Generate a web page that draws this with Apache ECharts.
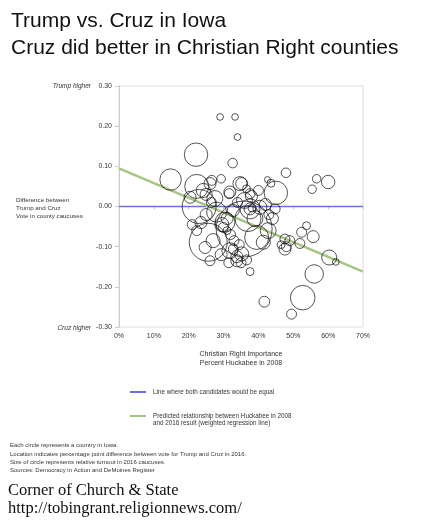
<!DOCTYPE html>
<html>
<head>
<meta charset="utf-8">
<script src="https://cdn.jsdelivr.net/npm/echarts@6/dist/echarts.min.js"></script>
<style>
  html, body { margin: 0; padding: 0; background: #fff; }
  #chart { width: 438px; height: 525px; }
</style>
</head>
<body>
<div id="chart"></div>
<script>
// percent Huckabee 2008 per county
var huckabee = [29.0, 33.3, 34.0, 22.1, 32.6, 14.8, 47.9, 42.6, 43.6, 45.0,
    56.7, 60.0, 55.4, 22.3, 26.6, 29.3, 35.2, 36.6, 31.6, 23.0,
    25.6, 35.9, 41.4, 47.6, 49.0, 52.4, 53.8, 55.7, 47.6, 51.9,
    60.3, 62.2, 56.0, 52.7, 41.7, 49.5, 37.6, 26.1, 24.7, 33.8,
    35.2, 36.6, 32.8, 29.9, 31.0, 22.3, 24.2, 26.1, 31.8, 34.7,
    37.6, 30.4, 31.0, 29.5, 37.6, 37.6, 38.2, 32.8, 28.0, 23.5,
    39.5, 42.8, 31.8, 33.8, 27.0, 40.4, 44.8, 42.0, 43.0, 39.0,
    27.5, 25.0, 20.4, 26.5, 34.0, 36.0, 38.0, 32.0, 33.0, 34.5,
    46.5, 48.0, 29.3, 31.5, 35.0, 44.0, 40.0, 25.0, 21.0, 37.0];
// Trump minus Cruz share, 2016
var margin = [0.223, 0.223, 0.173, 0.129, 0.108, 0.067, 0.084, 0.067, 0.058, 0.034,
    0.069, 0.061, 0.043, 0.050, 0.065, 0.069, 0.057, 0.044, 0.032, 0.000,
    -0.089, -0.056, -0.089, -0.081, -0.085, -0.064, -0.048, -0.075, -0.106, -0.092,
    -0.127, -0.138, -0.168, -0.227, -0.237, -0.268, -0.162, -0.135, -0.102, -0.135,
    -0.118, -0.133, -0.106, -0.052, -0.060, -0.060, 0.040, 0.057, 0.036, 0.057,
    0.032, -0.039, -0.030, -0.045, -0.006, -0.006, -0.004, -0.010, -0.014, -0.040,
    -0.077, -0.060, -0.110, -0.125, -0.085, -0.002, -0.006, 0.005, -0.020, -0.030,
    0.020, 0.030, 0.023, 0.010, 0.010, 0.015, 0.025, -0.070, -0.085, -0.095,
    -0.095, -0.100, -0.120, -0.140, -0.140, -0.030, 0.040, -0.020, -0.045, -0.030];
// relative caucus turnout (hundreds)
var turnout = [5, 5, 5, 61, 10, 51, 10, 4, 7, 61,
    8, 20, 8, 64, 11, 8, 16, 7, 11, 128,
    160, 348, 22, 11, 11, 11, 7, 16, 16, 11,
    25, 5, 38, 67, 13, 11, 7, 11, 16, 16,
    22, 11, 11, 11, 7, 11, 22, 16, 16, 22,
    11, 44, 16, 22, 44, 16, 7, 16, 44, 16,
    64, 28, 28, 16, 22, 22, 11, 16, 11, 28,
    28, 16, 16, 11, 11, 28, 16, 11, 11, 11,
    7, 11, 16, 11, 11, 16, 11, 16, 11, 75];

var lineX = [0, 70];
var equalY = [0, 0];
var regressionY = [0.095, -0.162];

var equalName = 'Line where both candidates would be equal';
var regName = 'Predicted relationship between Huckabee in 2008';

var notes = [
    'Each circle represents a country in Iowa.',
    'Location indicates percentage point difference between vote for Trump and Cruz in 2016.',
    'Size of circle represents relative turnout in 2016 caucuses.',
    'Sources: Democracy in Action and DeMoines Register'
];

var counties = [];
for (var i = 0; i < huckabee.length; i++) {
    counties.push([huckabee[i], margin[i], turnout[i]]);
}
var equalLine = [], regLine = [];
for (var j = 0; j < lineX.length; j++) {
    equalLine.push([lineX[j], equalY[j]]);
    regLine.push([lineX[j], regressionY[j]]);
}

var sans = '"Liberation Sans", Arial, sans-serif';
var gray = '#333';

var graphics = [
    { type: 'text', style: { text: 'Trump vs. Cruz in Iowa', x: 11, y: 21.5, font: '21px ' + sans, fill: '#111', verticalAlign: 'middle' } },
    { type: 'text', style: { text: 'Cruz did better in Christian Right counties', x: 11, y: 48.5, font: '21px ' + sans, fill: '#111', verticalAlign: 'middle' } },
    { type: 'text', style: { text: 'Trump higher', x: 91, y: 86, font: 'italic 6.5px ' + sans, fill: gray, align: 'right', verticalAlign: 'middle' } },
    { type: 'text', style: { text: 'Cruz higher', x: 91, y: 328, font: 'italic 6.5px ' + sans, fill: gray, align: 'right', verticalAlign: 'middle' } },
    { type: 'text', style: { text: 'Difference between\nTrump and Cruz\nVote in county caucuses', x: 16, y: 196, font: '6.2px ' + sans, lineHeight: 8.2, fill: gray } },
    { type: 'text', style: { text: 'and 2016 result (weighted regression line)', x: 153, y: 423.5, font: '6.3px ' + sans, fill: gray, verticalAlign: 'middle' } },
    { type: 'text', style: { text: notes.join('\n'), x: 10, y: 441.6, font: '6px ' + sans, lineHeight: 8.2, fill: gray } },
    { type: 'text', style: { text: 'Corner of Church & State', x: 8, y: 490.5, font: '16.5px "Liberation Serif", serif', fill: '#111', verticalAlign: 'middle' } },
    { type: 'text', style: { text: 'http://tobingrant.religionnews.com/', x: 8, y: 508.5, font: '16.5px "Liberation Serif", serif', fill: '#111', verticalAlign: 'middle' } }
];

var chart = echarts.init(document.getElementById('chart'), null, { renderer: 'canvas' });
chart.setOption({
    animation: false,
    backgroundColor: '#fff',
    textStyle: { fontFamily: sans },
    grid: { left: 119, top: 86, width: 244, height: 241, show: true, borderColor: '#ddd', borderWidth: 1 },
    legend: [
        { data: [equalName], left: 130, top: 389, padding: 0, itemWidth: 16, itemHeight: 2, itemGap: 0, icon: 'rect',
          textStyle: { fontSize: 6.3, color: gray, padding: [0, 0, 0, 2] }, selectedMode: false },
        { data: [regName], left: 130, top: 413, padding: 0, itemWidth: 16, itemHeight: 2, itemGap: 0, icon: 'rect',
          textStyle: { fontSize: 6.3, color: gray, padding: [0, 0, 0, 2] }, selectedMode: false }
    ],
    xAxis: {
        type: 'value', min: 0, max: 70, interval: 10,
        name: 'Christian Right Importance\nPercent Huckabee in 2008',
        nameLocation: 'middle', nameGap: 23,
        nameTextStyle: { fontSize: 7, color: gray, lineHeight: 9 },
        axisLine: { lineStyle: { color: '#ccc' } },
        axisTick: { show: true, length: 3, lineStyle: { color: '#ccc' } },
        axisLabel: { formatter: '{value}%', fontSize: 7, color: gray, margin: 6 },
        splitLine: { show: false }
    },
    yAxis: {
        type: 'value', min: -0.3, max: 0.3, interval: 0.1,
        axisLine: { show: true, lineStyle: { color: '#ccc' } },
        axisTick: { show: true, length: 4, lineStyle: { color: '#ccc' } },
        axisLabel: { formatter: function (v) { return v.toFixed(2); }, fontSize: 7, color: gray, margin: 7 },
        splitLine: { show: false }
    },
    graphic: graphics,
    series: [
        {
            name: equalName, type: 'line', data: equalLine, symbol: 'none', z: 1,
            lineStyle: { color: '#6f6fe0', width: 1.5 }, itemStyle: { color: '#6f6fe0' }
        },
        {
            name: regName, type: 'line', data: regLine, symbol: 'none', z: 1,
            lineStyle: { color: '#a6c583', width: 2.5 }, itemStyle: { color: '#a6c583' }
        },
        {
            name: 'Counties', type: 'scatter', data: counties, z: 3,
            symbolSize: function (v) { return 3 * Math.sqrt(v[2]); },
            itemStyle: { color: 'rgba(0,0,0,0)', borderColor: '#111', borderWidth: 0.9 },
            emphasis: { disabled: true }
        }
    ]
});
</script>
</body>
</html>
